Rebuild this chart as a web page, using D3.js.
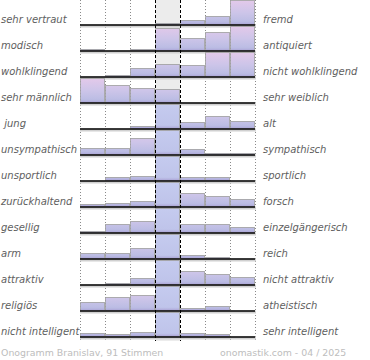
<!DOCTYPE html>
<html>
<head>
<meta charset="utf-8">
<script src="https://cdn.jsdelivr.net/npm/d3@7"></script>
<style>
  body { margin: 0; background: #fff; }
  svg { display: block; }
</style>
</head>
<body>
<script>
// Gegensatzpaare (links / rechts)
const leftLabels = ["sehr vertraut", "modisch", "wohlklingend", "sehr männlich", " jung",
  "unsympathisch", "unsportlich", "zurückhaltend", "gesellig", "arm", "attraktiv",
  "religiös", "nicht intelligent"];
const rightLabels = ["fremd", "antiquiert", "nicht wohlklingend", "sehr weiblich", "alt",
  "sympathisch", "sportlich", "forsch", "einzelgängerisch", "reich", "nicht attraktiv",
  "atheistisch", "sehr intelligent"];

// Anteil der Stimmen in % je Stufe (7 Stufen, Mitte = neutral)
const votes = [
  [0, 0, 0, 2, 5, 9, 84],
  [2, 0, 2, 23, 13, 19, 41],
  [0, 2, 9, 13, 12, 32, 32],
  [53, 18, 15, 14, 0, 0, 0],
  [0, 0, 3, 69, 7, 13, 8],
  [7, 7, 17, 59, 6, 2, 2],
  [0, 4, 5, 83, 4, 4, 0],
  [3, 4, 6, 54, 14, 11, 8],
  [2, 9, 12, 53, 9, 9, 6],
  [6, 6, 11, 71, 4, 2, 0],
  [0, 2, 7, 58, 14, 11, 8],
  [9, 14, 16, 53, 3, 5, 0],
  [4, 3, 5, 81, 4, 3, 0]
];
const steps = [0, 1, 2, 3, 4, 5, 6];
const neutral = 3;
const footerLeft = "Onogramm Branislav, 91 Stimmen";
const footerRight = "onomastik.com - 04 / 2025";

const W = 370, H = 360;
const FONT = "DejaVu Sans, sans-serif";

const svg = d3.select("body").append("svg")
  .attr("width", W)
  .attr("height", H);

const x = d3.scaleBand().domain(steps).range([80, 255]);
const y = d3.scaleBand().domain(d3.range(votes.length)).range([0, 338]);
const rowH = 25; // Höhe bis zur Grundlinie
const h = d3.scaleLinear().domain([0, rowH]).range([0, rowH]).clamp(true);
const chartBottom = 341;

//Farbverläufe
function draw_defs() {
  const defs = svg.append("defs");
  const g1 = defs.append("linearGradient")
    .attr("id", "bar-grad")
    .attr("gradientUnits", "userSpaceOnUse")
    .attr("x1", 0).attr("y1", 0).attr("x2", 0).attr("y2", rowH);
  [[0, "#e4c9ea"], [0.5, "#cdc5e9"], [0.85, "#bcbde4"], [0.93, "#b4b2de"], [1, "#9f92cc"]]
    .forEach(s => g1.append("stop").attr("offset", s[0]).attr("stop-color", s[1]));

  const g2 = defs.append("linearGradient")
    .attr("id", "neutral-grad")
    .attr("gradientUnits", "userSpaceOnUse")
    .attr("x1", 0).attr("y1", 0).attr("x2", 0).attr("y2", rowH);
  [[0, "#c5cbef"], [0.85, "#bfc4ea"], [0.93, "#b4b2de"], [1, "#9f92cc"]]
    .forEach(s => g2.append("stop").attr("offset", s[0]).attr("stop-color", s[1]));
}

//Hintergrund und Hilfslinien
function draw_background() {
  svg.append("rect")
    .attr("x", x(neutral))
    .attr("y", 0)
    .attr("width", x.bandwidth())
    .attr("height", chartBottom)
    .style("fill", "#ececec");

  const bounds = [80, 105, 130, 205, 230, 255];
  svg.selectAll(".grid-dot")
    .data(bounds)
    .enter()
    .append("line")
    .attr("class", "grid-dot")
    .attr("x1", d => d + 0.5).attr("x2", d => d + 0.5)
    .attr("y1", 0).attr("y2", chartBottom)
    .style("stroke", "#8a8a8a")
    .style("stroke-width", 1)
    .style("stroke-dasharray", "1,2");
}

//Balken
function draw_rows() {
  const rows = svg.selectAll(".row")
    .data(votes)
    .enter()
    .append("g")
    .attr("class", "row")
    .attr("transform", (d, i) => `translate(0, ${y(i)})`);

  rows.selectAll(".bar")
    .data(d => d.map((v, j) => ({ v: v, j: j })).filter(e => e.v > 0))
    .enter()
    .append("rect")
    .attr("class", "bar")
    .attr("x", d => x(d.j) + 0.5)
    .attr("y", d => rowH - h(d.v) + 0.5)
    .attr("width", x.bandwidth() - 1)
    .attr("height", d => Math.max(h(d.v) - 0.5, 0.5))
    .style("fill", d => (d.j === neutral && d.v > rowH) ? "url(#neutral-grad)" : "url(#bar-grad)")
    .style("stroke", "#9c9c9c")
    .style("stroke-width", 1)
    .style("stroke-opacity", 0.8);

  // Grundlinie mit Schatten
  rows.append("line")
    .attr("x1", 80).attr("x2", 256)
    .attr("y1", rowH + 1).attr("y2", rowH + 1)
    .style("stroke", "#d0d0d0")
    .style("stroke-width", 3);
  rows.append("line")
    .attr("x1", 80).attr("x2", 255)
    .attr("y1", rowH).attr("y2", rowH)
    .style("stroke", "#000")
    .style("stroke-width", 1.6);
}

//gestrichelte Mittellinien
function draw_center_lines() {
  svg.selectAll(".grid-dash")
    .data([x(neutral), x(neutral) + x.bandwidth()])
    .enter()
    .append("line")
    .attr("class", "grid-dash")
    .attr("x1", d => d + 0.5).attr("x2", d => d + 0.5)
    .attr("y1", 0).attr("y2", chartBottom)
    .style("stroke", "#000")
    .style("stroke-width", 1)
    .style("stroke-dasharray", "3,2");
}

//Beschriftungen
function draw_labels() {
  svg.selectAll(".lLabel")
    .data(leftLabels)
    .enter()
    .append("text")
    .attr("class", "lLabel")
    .attr("x", 1)
    .attr("y", (d, i) => y(i) + rowH - 2)
    .attr("xml:space", "preserve")
    .text(d => d)
    .style("font-family", FONT)
    .style("font-style", "italic")
    .style("font-size", "10px")
    .style("fill", "#5e5e5e");

  svg.selectAll(".rLabel")
    .data(rightLabels)
    .enter()
    .append("text")
    .attr("class", "rLabel")
    .attr("x", 263)
    .attr("y", (d, i) => y(i) + rowH - 2)
    .text(d => d)
    .style("font-family", FONT)
    .style("font-style", "italic")
    .style("font-size", "10px")
    .style("fill", "#5e5e5e");

  svg.append("text")
    .attr("x", 1).attr("y", 356)
    .text(footerLeft)
    .style("font-family", FONT)
    .style("font-size", "9.4px")
    .style("fill", "#bdbdbd");
  svg.append("text")
    .attr("x", 220).attr("y", 356)
    .text(footerRight)
    .style("font-family", FONT)
    .style("font-size", "9.4px")
    .style("fill", "#bdbdbd");
}

draw_defs();
draw_background();
draw_rows();
draw_center_lines();
draw_labels();
</script>
</body>
</html>
